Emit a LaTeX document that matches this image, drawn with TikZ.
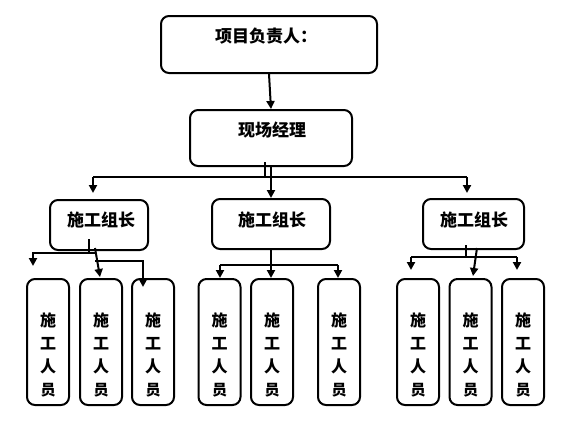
\documentclass[tikz,border=0pt]{standalone}
\usepackage{fontspec}
\newfontfamily\cjk{Noto Sans CJK SC}
\usetikzlibrary{arrows.meta}
\begin{document}
\begin{tikzpicture}[x=1pt,y=-1pt,
  box/.style={draw=black,line width=2pt,rounded corners=8pt,inner sep=0pt},
  lbl/.style={inner sep=0pt,font=\cjk\bfseries\fontsize{17}{18}\selectfont},
  wlbl/.style={inner sep=0pt,align=center,font=\cjk\bfseries\fontsize{16}{23}\selectfont},
  ln/.style={line width=2pt},
  arr/.style={line width=2pt,-{Triangle[length=8pt,width=8pt]}}]
\useasboundingbox (0,0) rectangle (572,426);
% boxes
\node[box,minimum width=216pt,minimum height=57pt] (top) at (269,44.5) {};
\node[lbl] (topt) at (266,36) {项目负责人：};
\node[box,minimum width=162pt,minimum height=56pt] (mgr) at (271,138) {};
\node[lbl] (mgrt) at (272,130) {现场经理};
\node[box,minimum width=98pt,minimum height=50pt] (g1) at (99,225) {};
\node[lbl] (g1t) at (101,220) {施工组长};
\node[box,minimum width=118pt,minimum height=50pt] (g2) at (271,224) {};
\node[lbl] (g2t) at (272,220) {施工组长};
\node[box,minimum width=101pt,minimum height=50pt] (g3) at (473.5,224) {};
\node[lbl] (g3t) at (474,220) {施工组长};
% worker boxes
\foreach \n/\x in {w1/48,w2/101,w3/153,w4/219.5,w5/272,w6/339,w7/418,w8/470.5,w9/523}{
  \node[box,minimum width=42pt,minimum height=126pt] (\n) at (\x,342) {};
  \node[wlbl] (\n t) at (\x,355) {施\\工\\人\\{\fontsize{15}{15}\selectfont 员}};
}
% top connectors
\draw[arr] (top.south) -- (mgr.north);
\coordinate (m1) at (265,162);
\coordinate (m2) at (265,177);
\draw[ln] (m1) -- (m2);
\coordinate (hl) at (93,177);
\coordinate (hr) at (467,177);
\draw[ln] (hl) -- (hr);
\coordinate (al) at (93,193);
\coordinate (ar) at (467,193);
\draw[arr] (hl) -- (al);
\draw[arr] (hr) -- (ar);
\draw[arr] (271,166) -- (g2.north);
% left group
\coordinate (a1) at (89,239);
\coordinate (a2) at (89,253);
\coordinate (a3) at (33,253);
\coordinate (a4) at (33,266);
\draw[ln] (a1) -- (a2) -- (95,253);
\draw[arr] (a2) -- (a3) -- (a4);
\coordinate (b1) at (95,248);
\coordinate (b2) at (100,277);
\draw[arr] (b1) -- (b2);
\coordinate (c1) at (95,261);
\coordinate (c2) at (143,261);
\coordinate (c3) at (143,287);
\draw[arr] (c1) -- (c2) -- (c3);
% middle group
\coordinate (d1) at (271,265);
\coordinate (d2) at (220,265);
\coordinate (d3) at (338,265);
\draw[ln] (g2.south) -- (d1);
\draw[ln] (d2) -- (d3);
\draw[arr] (d2) -- (220,278);
\draw[arr] (d1) -- (271,278);
\draw[arr] (d3) -- (338,278);
% right group
\coordinate (e1) at (466,245);
\coordinate (e2) at (466,257);
\coordinate (e3) at (411,257);
\coordinate (e4) at (517,257);
\draw[ln] (e1) -- (e2);
\draw[ln] (e3) -- (e4);
\draw[arr] (e3) -- (411,270);
\draw[arr] (e4) -- (517,270);
\draw[arr] (477,248) -- (473,276);
\end{tikzpicture}
\end{document}
